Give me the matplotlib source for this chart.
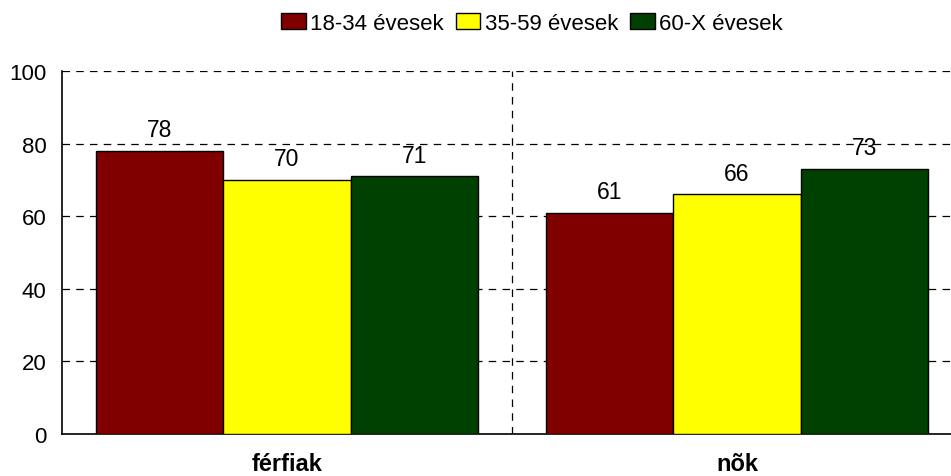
import matplotlib
matplotlib.use("Agg")
import matplotlib.pyplot as plt
import numpy as np

# data
categories = ['férfiak', 'nõk']
series_names = ['18-34 évesek', '35-59 évesek', '60-X évesek']
values_1834 = [78, 61]
values_3559 = [70, 66]
values_60x = [71, 73]
yticks = [0, 20, 40, 60, 80, 100]

colors = ['#800000', '#FFFF00', '#004000']

plt.rcParams['font.family'] = ['Liberation Sans', 'DejaVu Sans']

fig = plt.figure(figsize=(9.51, 4.77), dpi=100)
ax = fig.add_axes([62/951, 1 - 435/477, 900/951, (435 - 72)/477])

x = np.arange(len(categories))
w = 0.2833
allvals = [values_1834, values_3559, values_60x]
for i, (vals, name, c) in enumerate(zip(allvals, series_names, colors)):
    bars = ax.bar(x + (i - 1) * w, vals, w, color=c, edgecolor='black',
                  linewidth=1.0, label=name, zorder=3)
    ax.bar_label(bars, padding=7, fontsize=16.5)

ax.set_xlim(-0.5, 1.5)
ax.set_ylim(0, 100)
ax.set_yticks(yticks)
ax.set_xticks(x)
ax.set_xticklabels(categories, fontweight='bold', fontsize=17)
ax.tick_params(axis='y', length=0, pad=11, labelsize=16)
ax.tick_params(axis='x', length=0, pad=13)

# dashed grid + category divider
for yv in yticks[1:]:
    ax.axhline(yv, color='black', lw=0.9, ls=(0, (6, 5)), zorder=1)
ax.axvline(0.5, color='black', lw=0.9, ls=(0, (6, 5)), zorder=1)

ax.spines['top'].set_visible(False)
ax.spines['right'].set_visible(False)
ax.spines['left'].set_linewidth(1.2)
ax.spines['bottom'].set_linewidth(1.2)

fig.legend(loc='center', bbox_to_anchor=(532/951, 1 - 24/477), ncol=3,
           frameon=False, fontsize=16, handlelength=1.1, handleheight=0.7,
           handletextpad=0.2, columnspacing=0.55, borderaxespad=0)

plt.savefig('out.png', dpi=100)
